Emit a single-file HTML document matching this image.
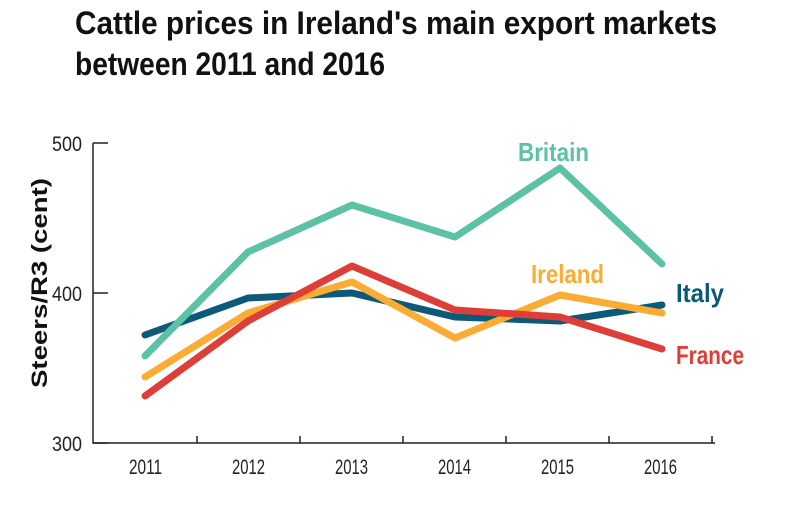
<!DOCTYPE html>
<html><head><meta charset="utf-8"><style>
body{margin:0;background:#fff}
svg{display:block}
</style></head><body>
<svg width="790" height="507" xmlns="http://www.w3.org/2000/svg" font-family="'Liberation Sans',sans-serif">
<text x="75" y="34" font-size="32" font-weight="bold" fill="#111" textLength="642" lengthAdjust="spacingAndGlyphs">Cattle prices in Ireland's main export markets</text>
<text x="75" y="75" font-size="32" font-weight="bold" fill="#111" textLength="310" lengthAdjust="spacingAndGlyphs">between 2011 and 2016</text>
<g stroke="#222" stroke-width="1.5" fill="none">
<path d="M93 143V443H715"/>
<path d="M93 143H108M93 293H108M93 443H108"/>
<path d="M197 443V436M300 443V436M403 443V436M506 443V436M609 443V436M712 443V436"/>
</g>
<g font-size="21" fill="#222">
<text x="52" y="151" textLength="30" lengthAdjust="spacingAndGlyphs">500</text>
<text x="52" y="301" textLength="30" lengthAdjust="spacingAndGlyphs">400</text>
<text x="52" y="451" textLength="30" lengthAdjust="spacingAndGlyphs">300</text>
</g>
<g font-size="21" fill="#222">
<text x="129" y="474" textLength="33" lengthAdjust="spacingAndGlyphs">2011</text>
<text x="232" y="474" textLength="33" lengthAdjust="spacingAndGlyphs">2012</text>
<text x="335" y="474" textLength="33" lengthAdjust="spacingAndGlyphs">2013</text>
<text x="438" y="474" textLength="33" lengthAdjust="spacingAndGlyphs">2014</text>
<text x="541" y="474" textLength="33" lengthAdjust="spacingAndGlyphs">2015</text>
<text x="644" y="474" textLength="33" lengthAdjust="spacingAndGlyphs">2016</text>
</g>
<text transform="translate(47,283) rotate(-90)" x="-105" y="0" font-size="22" font-weight="bold" fill="#111" textLength="210" lengthAdjust="spacingAndGlyphs">Steers/R3 (cent)</text>
<g fill="none" stroke-width="7" stroke-linecap="round" stroke-linejoin="round">
<polyline stroke="#0c5a78" points="145,335 248,298 352,293 455,317 560,321 662,305"/>
<polyline stroke="#5cc1a5" points="145,356 248,252 352,205 455,237 560,168 662,264"/>
<polyline stroke="#fbac35" points="145,377 248,313 352,282 455,338 560,295 662,313"/>
<polyline stroke="#dd3f38" points="145,396 248,321 352,266 455,310 560,317 662,349"/>
</g>
<g font-size="26" font-weight="bold">
<text x="518" y="161" fill="#5cc1a5" textLength="71" lengthAdjust="spacingAndGlyphs">Britain</text>
<text x="531" y="283" fill="#fbac35" textLength="73" lengthAdjust="spacingAndGlyphs">Ireland</text>
<text x="676" y="302" fill="#0c5a78" textLength="48" lengthAdjust="spacingAndGlyphs">Italy</text>
<text x="676" y="364" fill="#dd3f38" textLength="68" lengthAdjust="spacingAndGlyphs">France</text>
</g>
</svg>
</body></html>
